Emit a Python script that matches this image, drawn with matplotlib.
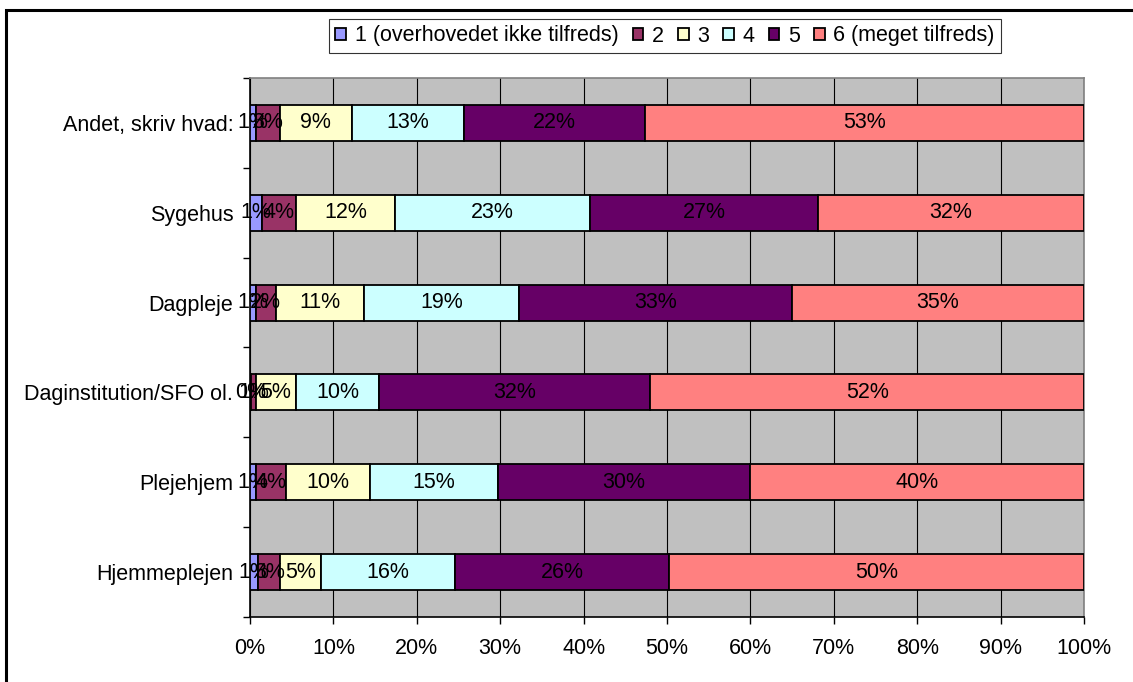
import matplotlib
matplotlib.use("Agg")
import matplotlib.pyplot as plt
import numpy as np
from matplotlib.patches import Rectangle
from matplotlib.ticker import FixedLocator, NullFormatter, FixedFormatter

plt.rcParams['font.family'] = ['Liberation Sans', 'DejaVu Sans']

categories = ["Hjemmeplejen", "Plejehjem", "Daginstitution/SFO ol.", "Dagpleje", "Sygehus", "Andet, skriv hvad:"]
series_names = ["1 (overhovedet ikke tilfreds)", "2", "3", "4", "5", "6 (meget tilfreds)"]
s1 = [1.0, 0.7, 0.1, 0.7, 1.4, 0.7]
s2 = [2.6, 3.6, 0.6, 2.4, 4.1, 2.9]
s3 = [4.9, 10.1, 4.8, 10.6, 11.9, 8.6]
s4 = [16.1, 15.3, 10.0, 18.6, 23.4, 13.4]
s5 = [25.6, 30.2, 32.5, 32.7, 27.3, 21.8]
s6 = [49.8, 40.1, 52.0, 35.0, 31.9, 52.6]
colors = ["#9999FF", "#993366", "#FFFFCC", "#CCFFFF", "#660066", "#FF8080"]
xtick_labels = ["0%", "10%", "20%", "30%", "40%", "50%", "60%", "70%", "80%", "90%", "100%"]

W, H = 1133, 682
fig = plt.figure(figsize=(W / 100, H / 100), dpi=100)
fig.patch.set_facecolor("white")

# outer frame
fig.add_artist(Rectangle((6 / W, -0.05), 1.2, (H - 10) / H + 0.05, transform=fig.transFigure,
                         fill=False, edgecolor="black", linewidth=2.2))

left, right, top, bottom = 250, 1084, 78, 617
ax = fig.add_axes([left / W, 1 - bottom / H, (right - left) / W, (bottom - top) / H])
ax.set_facecolor("#C0C0C0")

FS = 15.5
y = np.arange(len(categories))
data = [s1, s2, s3, s4, s5, s6]
cum = np.zeros(len(categories))
for vals, col, name in zip(data, colors, series_names):
    vals = np.array(vals)
    ax.barh(y, vals, left=cum, height=0.4, color=col, edgecolor="black", linewidth=1.3,
            label=name, zorder=3)
    for yi, v, c in zip(y, vals, cum):
        ax.text(c + v / 2, yi, f"{v:.0f}%", ha="center", va="center", fontsize=FS,
                color="black", zorder=5)
    cum = cum + vals

ax.set_xlim(0, 100)
ax.set_ylim(-0.5, len(categories) - 0.5)

ax.xaxis.set_major_locator(FixedLocator(np.arange(0, 101, 10)))
ax.xaxis.set_major_formatter(FixedFormatter(xtick_labels))
ax.grid(axis="x", color="black", linewidth=0.8, zorder=1)
ax.set_axisbelow(True)

ax.yaxis.set_major_locator(FixedLocator(np.arange(-0.5, len(categories), 1)))
ax.yaxis.set_major_formatter(NullFormatter())
ax.yaxis.set_minor_locator(FixedLocator(y))
ax.yaxis.set_minor_formatter(FixedFormatter(categories))
ax.tick_params(axis="y", which="major", length=5, width=1, direction="out", color="black")
ax.tick_params(axis="y", which="minor", length=0, pad=12, labelsize=FS)
ax.tick_params(axis="x", which="major", length=5, width=1, direction="out", pad=10, labelsize=FS)

for s in ["left", "bottom"]:
    ax.spines[s].set_color("black")
    ax.spines[s].set_linewidth(1.2)
for s in ["top", "right"]:
    ax.spines[s].set_color("#808080")
    ax.spines[s].set_linewidth(1.2)

leg = fig.legend(loc="center", bbox_to_anchor=(665 / W, 1 - 36 / H), ncol=6, fontsize=FS,
                 frameon=True, fancybox=False, shadow=False, edgecolor="black",
                 handlelength=0.5, handleheight=0.5, handletextpad=0.4, columnspacing=0.65,
                 borderpad=0.3, borderaxespad=0)
leg.get_frame().set_linewidth(0.8)

fig.savefig("out.png", dpi=100)
